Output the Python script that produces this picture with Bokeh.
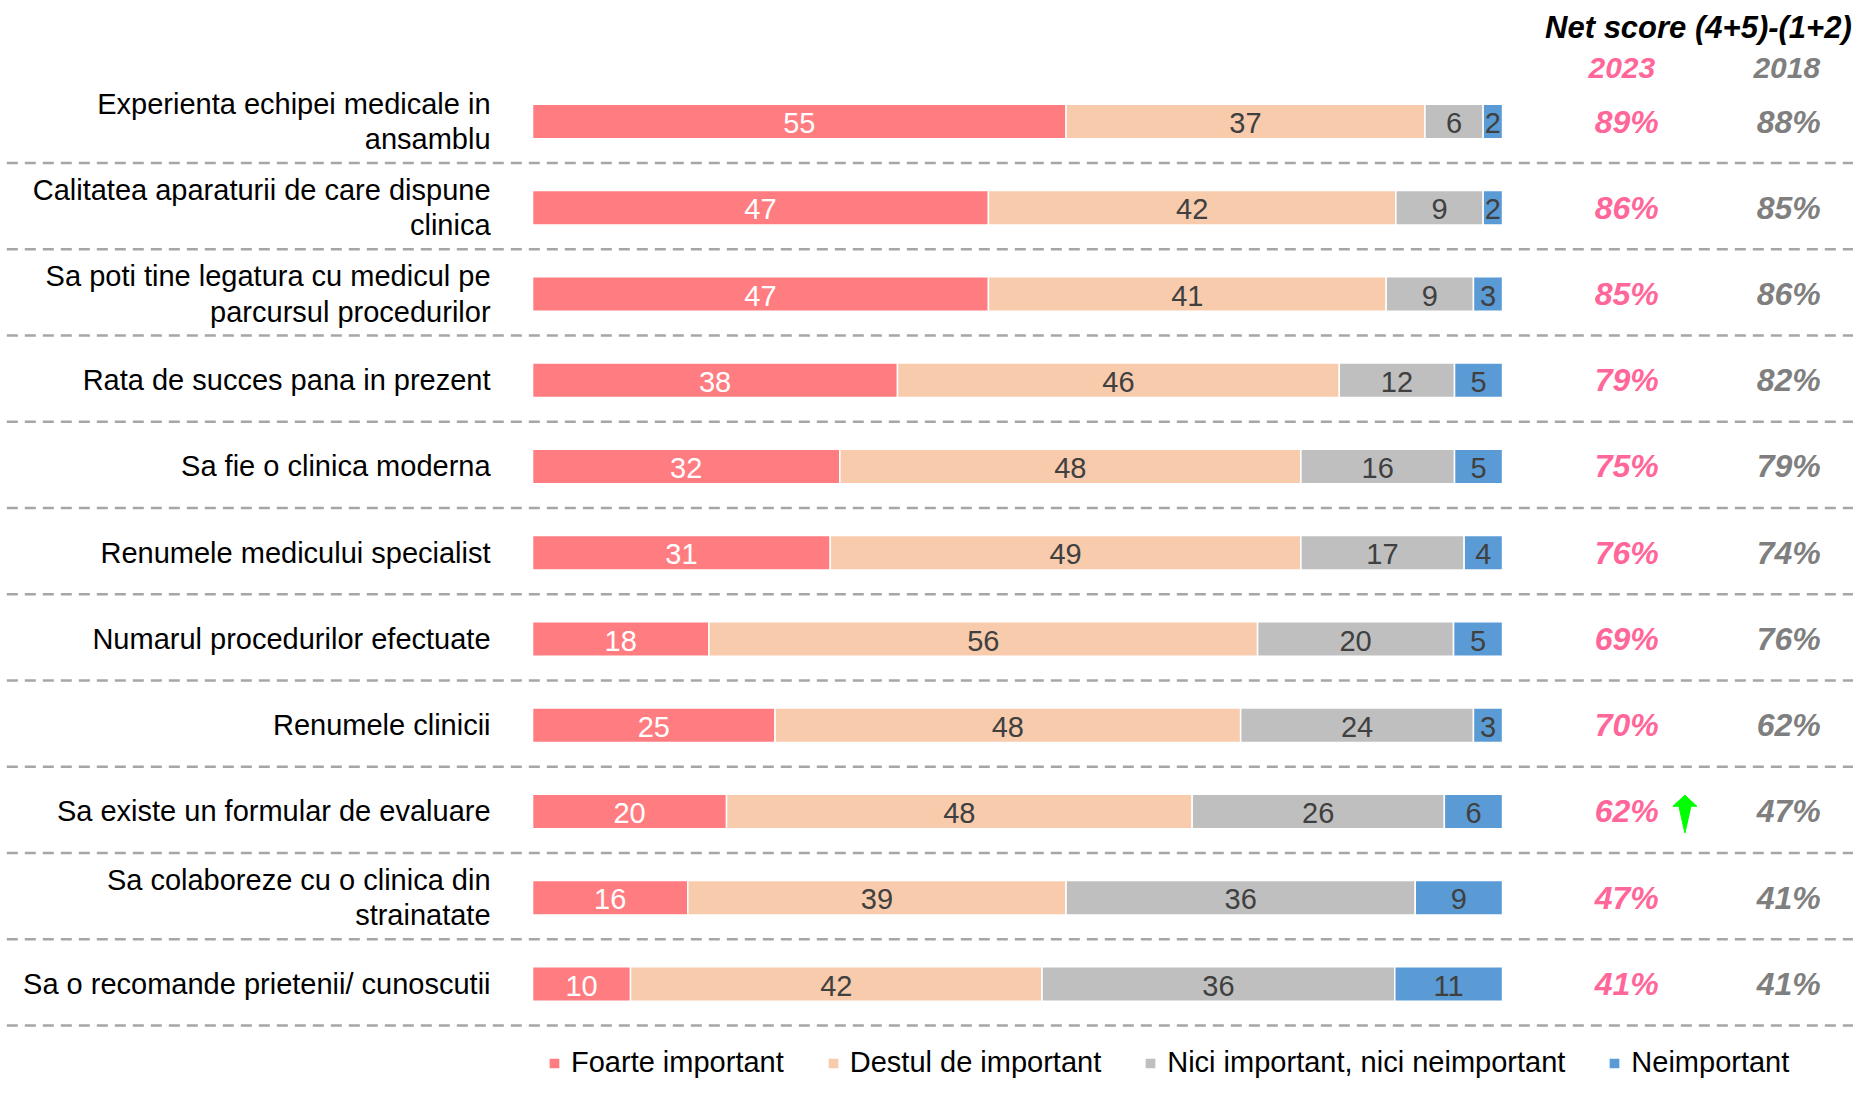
from bokeh.plotting import figure
from bokeh.models import Range1d, ColumnDataSource, Legend, LegendItem
from bokeh.core.properties import value
from bokeh.embed import file_html
from bokeh.resources import INLINE

# ---------------- data ----------------
categories = [
    "Experienta echipei medicale in\nansamblu",
    "Calitatea aparaturii de care dispune\nclinica",
    "Sa poti tine legatura cu medicul pe\nparcursul procedurilor",
    "Rata de succes pana in prezent",
    "Sa fie o clinica moderna",
    "Renumele medicului specialist",
    "Numarul procedurilor efectuate",
    "Renumele clinicii",
    "Sa existe un formular de evaluare",
    "Sa colaboreze cu o clinica din\nstrainatate",
    "Sa o recomande prietenii/ cunoscutii",
]
series_names = ["Foarte important", "Destul de important",
                "Nici important, nici neimportant", "Neimportant"]
foarte = [55, 47, 47, 38, 32, 31, 18, 25, 20, 16, 10]
destul = [37, 42, 41, 46, 48, 49, 56, 48, 48, 39, 42]
nici = [6, 9, 9, 12, 16, 17, 20, 24, 26, 36, 36]
neimp = [2, 2, 3, 5, 5, 4, 5, 3, 6, 9, 11]
net_2023 = [89, 86, 85, 79, 75, 76, 69, 70, 62, 47, 41]
net_2018 = [88, 85, 86, 82, 79, 74, 76, 62, 47, 41, 41]
arrow_rows = [8]
title_text = "Net score (4+5)-(1+2)"
year_labels = ["2023", "2018"]

colors = ["#FF7C80", "#F8CBAD", "#BFBFBF", "#5B9BD5"]
label_colors = ["#FFFFFF", "#404040", "#404040", "#404040"]
pink = "#FF6699"
grey = "#7F7F7F"
FONT = value("Liberation Sans")

# ---------------- derived ----------------
n = len(categories)
rows = list(range(n))
series = [foarte, destul, nici, neimp]
totals = [sum(s[i] for s in series) for i in rows]
keys = ["s0", "s1", "s2", "s3"]
data = {"y": rows}
for k, s in zip(keys, series):
    data[k] = [s[i] / totals[i] * 100 for i in rows]
src = ColumnDataSource(data)

p = figure(width=1853, height=1080,
           x_range=Range1d(-54.85, 136.18), y_range=Range1d(11.119, -1.403),
           output_backend="svg", toolbar_location=None, min_border=0,
           x_axis_location=None, y_axis_location=None)
p.grid.visible = False
p.outline_line_color = None
p.background_fill_color = "white"

# dashed separators
sep_y = [i + 0.48 for i in rows]
p.segment(x0=[-54.2] * n, x1=[136.2] * n, y0=sep_y, y1=sep_y,
          line_color="#A6A6A6", line_width=2.5, line_dash="11 7")

bars = p.hbar_stack(keys, y="y", height=0.40, source=src, color=colors,
                    line_color="white", line_width=1.5)

# value labels inside segments
for j, k in enumerate(keys):
    lefts = [sum(data[kk][i] for kk in keys[:j]) for i in rows]
    xs = [lefts[i] + data[k][i] / 2 for i in rows]
    p.text(x=xs, y=[r + 0.02 for r in rows], text=[str(v) for v in series[j]],
           text_align="center", text_baseline="middle",
           text_font=FONT, text_font_size="29px", text_color=label_colors[j])

# category labels
p.text(x=[-4.33] * n, y=rows, text=categories, text_align="right",
       text_baseline="middle", text_font=FONT, text_font_size="29px",
       text_color="#000000", text_line_height=1.1)

# net score columns
p.text(x=[136.0], y=[-1.09], text=[title_text], text_align="right",
       text_baseline="middle", text_font=FONT, text_font_size="31px",
       text_font_style="bold italic", text_color="#000000")
p.text(x=[112.3, 129.3], y=[-0.615, -0.615], text=year_labels,
       text_align="center", text_baseline="middle", text_font=FONT,
       text_font_size="30px", text_font_style="bold italic",
       text_color=[pink, grey])
p.text(x=[112.8] * n, y=rows, text=[f"{v}%" for v in net_2023],
       text_align="center", text_baseline="middle", text_font=FONT,
       text_font_size="32px", text_font_style="bold italic", text_color=pink)
p.text(x=[129.5] * n, y=rows, text=[f"{v}%" for v in net_2018],
       text_align="center", text_baseline="middle", text_font=FONT,
       text_font_size="32px", text_font_style="bold italic", text_color=grey)

# green up arrows
axs, ays = [], []
cx, hw, sw = 118.8, 1.24, 0.62
for r in arrow_rows:
    top, hb, bot = r - 0.19, r - 0.06, r + 0.25
    axs.append([cx - hw, cx, cx + hw, cx + sw, cx, cx - sw])
    ays.append([hb, top, hb, hb, bot, hb])
p.patches(axs, ays, fill_color="#00FF00", line_color="#00FF00", line_width=1)

legend = Legend(items=[LegendItem(label=nm, renderers=[r]) for nm, r in zip(series_names, bars)],
                orientation="horizontal", location=(547, 1), padding=0, margin=0,
                spacing=42, glyph_width=14, glyph_height=14, label_standoff=10,
                label_text_font="Liberation Sans", label_text_font_size="29px",
                label_text_color="#000000", border_line_alpha=0,
                background_fill_alpha=0)
p.add_layout(legend, "center")

open("out.html", "w").write(file_html(p, INLINE))
